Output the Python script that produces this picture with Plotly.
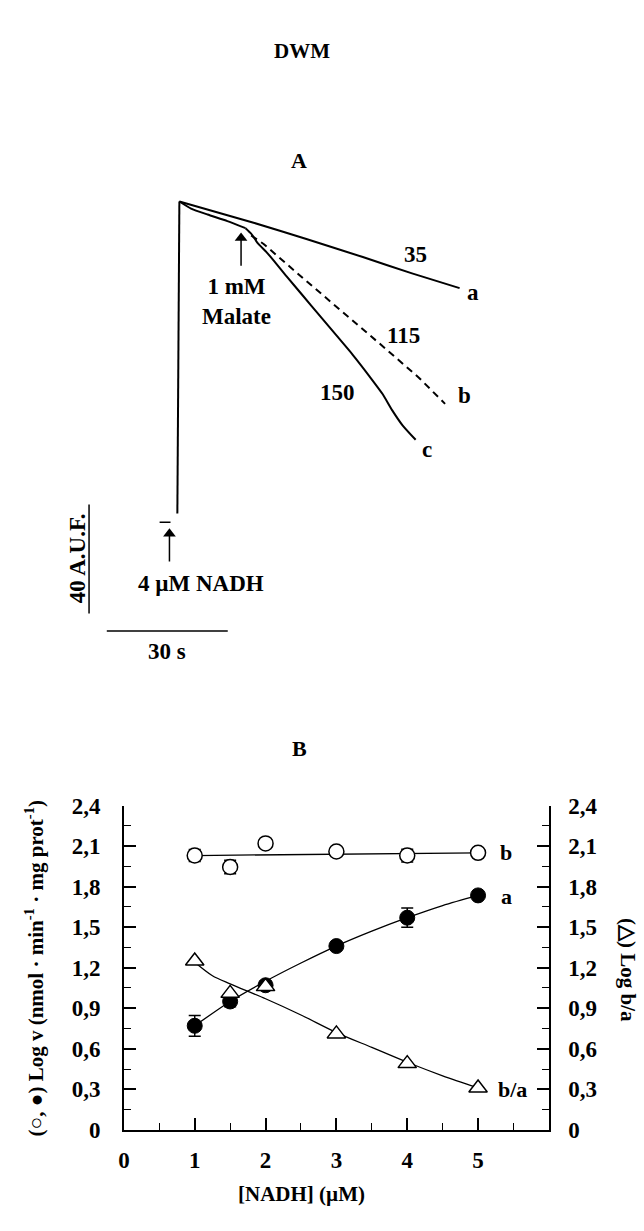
import plotly.graph_objects as go

W, H = 644, 1231
FONT = "Liberation Serif"

# ---------------- Panel A data (time in s, fluorescence in A.U.F.) ----------------
jump_t = [-0.5, 0.0]
jump_f = [0.0, 114.6]
trace_a_t = [0, 18.4, 31.5, 45.5, 57.7, 69.5]
trace_a_f = [114.6, 106.8, 100.8, 94.2, 88.2, 82.8]
pre_t = [0, 2.9, 7.0, 11.9, 16.4]
pre_f = [114.6, 112.0, 109.8, 107.4, 104.8]
trace_c_t = [16.4, 17.8, 19.6, 21.6, 23.3, 26.6, 30.7, 34.8, 38.9, 43.0, 47.1, 50.4, 52.8, 55.3, 58.6]
trace_c_f = [104.8, 102.8, 99.0, 96.0, 93.1, 87.1, 79.9, 72.7, 65.5, 58.3, 50.5, 43.9, 37.9, 32.5, 27.1]
trace_b_t = [17.8, 20.9, 30.7, 39.7, 49.6, 59.4, 65.9]
trace_b_f = [102.1, 99.0, 86.4, 75.1, 62.5, 49.9, 40.3]
rate_labels = ["35", "115", "150"]
trace_names = ["a", "b", "c"]
malate_t, malate_f = 15.3, 103.2
nadh_t, nadh_f = -2.46, -5.4
mark_t = [-4.9, -2.2]
mark_f = [-3.2, -3.2]
SCALE_S = 30      # time scale bar (s)
SCALE_AUF = 40    # fluorescence scale bar (A.U.F.)

# ---------------- Panel B data ----------------
nadh = [1, 1.5, 2, 3, 4, 5]
logv_b = [2.03, 1.945, 2.12, 2.06, 2.03, 2.05]
err_b = [0.045, 0.05, 0.0, 0.0, 0.047, 0.0]
logv_a = [0.77, 0.95, 1.07, 1.36, 1.57, 1.735]
err_a = [0.077, 0.04, 0.03, 0.0, 0.071, 0.0]
log_ba = [1.25, 1.01, 1.06, 0.71, 0.49, 0.31]
fit_b_x = [1, 5]
fit_b_y = [2.03, 2.05]
fit_a_x = [1, 1.5, 2, 2.5, 3, 3.5, 4, 4.5, 5]
fit_a_y = [0.77, 0.95, 1.10, 1.235, 1.36, 1.47, 1.57, 1.66, 1.735]
fit_ba_x = [1, 1.25, 1.5, 2, 2.5, 3, 3.5, 4, 4.5, 5]
fit_ba_y = [1.24, 1.14, 1.08, 0.97, 0.85, 0.72, 0.61, 0.50, 0.40, 0.31]
x_tickvals = [0, 1, 2, 3, 4, 5]
x_ticktext = ["0", "1", "2", "3", "4", "5"]
y_tickvals = [0, 0.3, 0.6, 0.9, 1.2, 1.5, 1.8, 2.1, 2.4]
y_ticktext = ["0", "0,3", "0,6", "0,9", "1,2", "1,5", "1,8", "2,1", "2,4"]

# ---------------- layout geometry (pixels) ----------------
A_T0_PX, A_F0_PX = 175.0, 512.0
PX_PER_S, PX_PER_AUF = 4.07, 2.78
A_TOP_PX, A_BOT_PX = 120.0, 700.0
B_L, B_R, B_T, B_B = 119.0, 548.0, 810.0, 1141.0
ARROW_LEN_PX = 34
HEAD_PX = 11

def px_x(p):
    return p / W

def px_y(p):
    return 1 - p / H

fig = go.Figure()

# ---- Panel A traces ----
lineA = dict(color="black", width=2)
def addA(x, y, line, **kw):
    fig.add_trace(go.Scatter(x=x, y=y, mode="lines", line=line, xaxis="x2", yaxis="y2", hoverinfo="skip", **kw))

addA(jump_t, jump_f, lineA)
addA(trace_a_t, trace_a_f, dict(lineA, shape="spline", smoothing=0.5))
addA(pre_t, pre_f, dict(lineA, shape="spline", smoothing=0.5))
addA(trace_c_t, trace_c_f, dict(lineA, shape="spline", smoothing=0.6))
addA(trace_b_t, trace_b_f, dict(color="black", width=2, dash="7px,5px"))
addA(mark_t, mark_f, dict(color="black", width=1.5))
# scale bars
sb_v_t, sb_v_f0 = -22.4, -36.7
addA([sb_v_t, sb_v_t], [sb_v_f0, sb_v_f0 + SCALE_AUF], dict(color="black", width=1.5))
sb_h_t0, sb_h_f = -18.0, -43.1
addA([sb_h_t0, sb_h_t0 + SCALE_S], [sb_h_f, sb_h_f], dict(color="black", width=1.5))

# arrows (shaft + filled head)
for tt, ff in [(malate_t, malate_f), (nadh_t, nadh_f)]:
    tail = ff - ARROW_LEN_PX / PX_PER_AUF
    addA([tt, tt], [tail, ff - HEAD_PX * 0.6 / PX_PER_AUF], dict(color="black", width=1.5))
    fig.add_trace(go.Scatter(x=[tt], y=[ff - HEAD_PX * 0.5 / PX_PER_AUF], mode="markers", xaxis="x2", yaxis="y2",
                             marker=dict(symbol="triangle-up", size=HEAD_PX, color="black", line=dict(width=0)),
                             hoverinfo="skip"))

# ---- Panel B traces ----
fig.add_trace(go.Scatter(x=fit_b_x, y=fit_b_y, mode="lines", line=dict(color="black", width=1.3)))
fig.add_trace(go.Scatter(x=fit_a_x, y=fit_a_y, mode="lines", line=dict(color="black", width=1.3, shape="spline", smoothing=0.8)))
fig.add_trace(go.Scatter(x=fit_ba_x, y=fit_ba_y, mode="lines", line=dict(color="black", width=1.3, shape="spline", smoothing=0.8), yaxis="y3"))
fig.add_trace(go.Scatter(x=nadh, y=logv_b, mode="markers",
                         marker=dict(symbol="circle", size=15, color="white", line=dict(color="black", width=1.5)),
                         error_y=dict(type="data", array=err_b, color="black", thickness=1.5, width=6)))
fig.add_trace(go.Scatter(x=nadh, y=logv_a, mode="markers",
                         marker=dict(symbol="circle", size=15, color="black", line=dict(color="black", width=1)),
                         error_y=dict(type="data", array=err_a, color="black", thickness=1.5, width=6)))
fig.add_trace(go.Scatter(x=nadh, y=log_ba, mode="markers", yaxis="y3",
                         marker=dict(symbol="triangle-up", size=16, color="white", line=dict(color="black", width=1.5))))

bold = dict(family=FONT, size=20, color="black", weight="bold")

ann = []
def txt(text, x, y, xref="paper", yref="paper", angle=0, size=20, xanchor="center", yanchor="middle"):
    ann.append(dict(text=text, x=x, y=y, xref=xref, yref=yref, showarrow=False, textangle=angle,
                    font=dict(bold, size=size), xanchor=xanchor, yanchor=yanchor))

# titles
txt("DWM", px_x(299), px_y(40), size=21)
txt("A", px_x(296), px_y(152), size=22)
txt("B", px_x(296), px_y(752), size=22)

# panel A texts
FA = 23
txt(rate_labels[0], 58.5, 95.0, "x2", "y2", size=FA)
txt(rate_labels[1], 55.7, 65.5, "x2", "y2", size=FA)
txt(rate_labels[2], 39.3, 44.5, "x2", "y2", size=FA)
txt(trace_names[0], 72.9, 81.0, "x2", "y2", size=FA)
txt(trace_names[1], 70.8, 43.3, "x2", "y2", size=FA)
txt(trace_names[2], 61.4, 23.7, "x2", "y2", size=FA)
txt("1 mM<br>Malate", 14.2, 78.0, "x2", "y2", size=FA)
txt("4 µM NADH", 5.4, -25.5, "x2", "y2", size=FA)
txt("30 s", -3.0, -50.7, "x2", "y2", size=FA)
txt("40 A.U.F.", -25.2, -16.5, "x2", "y2", angle=-90, size=FA)

# panel B texts
FB = 22
txt("b", 5.40, 2.05, "x", "y", size=FB)
txt("a", 5.40, 1.73, "x", "y", size=FB)
txt("b/a", 5.48, 0.30, "x", "y3", size=FB)
txt("(○, ●) Log v (nmol · min<sup>-1</sup> · mg prot<sup>-1</sup>)", px_x(29), px_y((B_T + B_B) / 2), angle=-90, size=21)
txt("(△) Log b/a", px_x(628), px_y(978), angle=90, size=21)
txt("[NADH] (µM)", px_x(298), px_y(1206), size=21)

fig.update_layout(annotations=ann)

tickfont = dict(bold, size=23)
axis_common = dict(showgrid=False, zeroline=False, showline=True, linecolor="black", linewidth=1.5,
                   ticks="inside", ticklen=12, tickwidth=1.5, tickcolor="black", tickfont=tickfont)
minor_common = dict(ticks="inside", ticklen=7, tickwidth=1.2, tickcolor="black", tick0=0, showgrid=False)

fig.update_layout(
    width=W, height=H, autosize=False,
    margin=dict(l=0, r=0, t=0, b=0),
    paper_bgcolor="white", plot_bgcolor="white",
    showlegend=False,
    font=dict(family=FONT, color="black"),
    xaxis=dict(axis_common, domain=[px_x(B_L), px_x(B_R)], range=[0, 6], anchor="y",
               tickmode="array", tickvals=x_tickvals, ticktext=x_ticktext, ticklabelstandoff=9,
               minor=dict(minor_common, dtick=0.5)),
    yaxis=dict(axis_common, domain=[px_y(B_B), px_y(B_T)], range=[0, 2.4], anchor="x",
               tickmode="array", tickvals=y_tickvals, ticktext=y_ticktext, ticklabelstandoff=17,
               minor=dict(minor_common, dtick=0.15)),
    yaxis3=dict(axis_common, overlaying="y", side="right", anchor="x", range=[0, 2.4],
                tickmode="array", tickvals=y_tickvals, ticktext=y_ticktext, ticklabelstandoff=13,
                minor=dict(minor_common, dtick=0.15)),
    xaxis2=dict(visible=False, domain=[0, 1], anchor="y2",
                range=[(0 - A_T0_PX) / PX_PER_S, (W - A_T0_PX) / PX_PER_S]),
    yaxis2=dict(visible=False, domain=[px_y(A_BOT_PX), px_y(A_TOP_PX)], anchor="x2",
                range=[(A_F0_PX - A_BOT_PX) / PX_PER_AUF, (A_F0_PX - A_TOP_PX) / PX_PER_AUF]),
)

fig.write_html("out.html")
